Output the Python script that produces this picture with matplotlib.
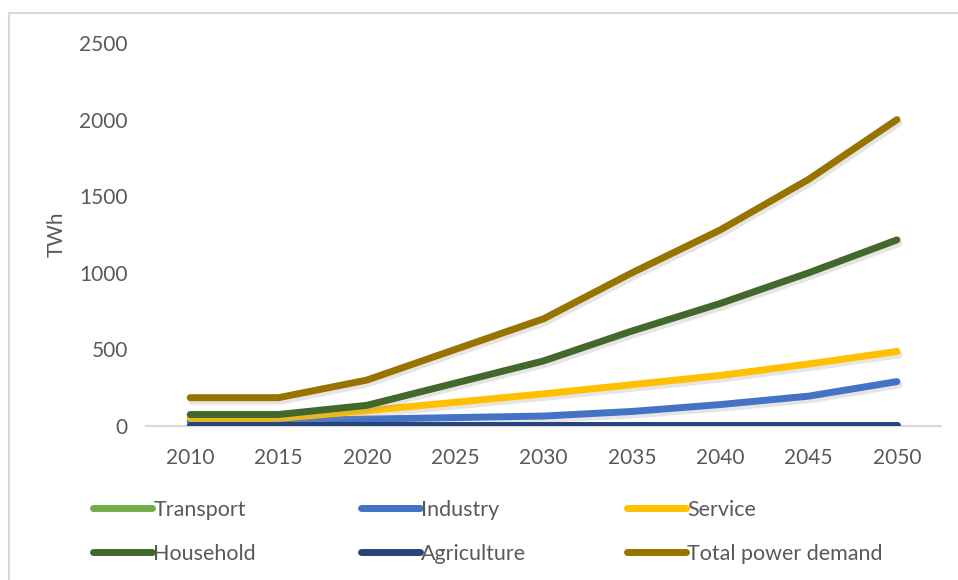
import matplotlib.pyplot as plt
import matplotlib.patheffects as pe
from matplotlib.patches import Rectangle

plt.rcParams['font.family'] = ['Lato', 'DejaVu Sans']

# data (TWh)
years = [2010, 2015, 2020, 2025, 2030, 2035, 2040, 2045, 2050]
transport = [1, 1, 1, 1, 2, 2, 2, 3, 3]
industry = [30, 35, 45, 55, 65, 95, 140, 195, 290]
service = [50, 50, 100, 155, 210, 270, 330, 405, 487]
household = [75, 75, 135, 280, 425, 620, 800, 1000, 1215]
agriculture = [4, 4, 4, 4, 4, 4, 4, 4, 4]
total = [185, 185, 300, 500, 700, 1000, 1280, 1610, 2000]

series = [
    ('Transport', transport, '#70AD47'),
    ('Industry', industry, '#4472C4'),
    ('Service', service, '#FFC000'),
    ('Household', household, '#43682B'),
    ('Agriculture', agriculture, '#264478'),
    ('Total power demand', total, '#997300'),
]

txt = '#595959'

fig = plt.figure(figsize=(9.58, 5.8), dpi=100)
fig.patches.append(Rectangle((9 / 958, -0.1), 1.1, 1.1 - 13 / 580,
                             transform=fig.transFigure, fill=False,
                             edgecolor='#D9D9D9', linewidth=1.5))
ax = fig.add_axes([0.1524, 0.2655, 0.830, 0.6603])

shadow = [pe.SimpleLineShadow(offset=(1.5, -2.5), shadow_color='#999999', alpha=0.25),
          pe.Normal()]

lines = {}
for name, vals, col in series:
    ln, = ax.plot(years, vals, color=col, lw=5, solid_capstyle='round',
                  solid_joinstyle='round', label=name, path_effects=shadow)
    lines[name] = ln

ax.set_xlim(2007.5, 2052.5)
ax.set_ylim(0, 2500)
ax.set_xticks(years)
ax.set_yticks(range(0, 2501, 500))
ax.tick_params(length=0, labelsize=15, colors=txt)
ax.tick_params(axis='y', pad=13)
ax.tick_params(axis='x', pad=16)
for s in ['top', 'right', 'left']:
    ax.spines[s].set_visible(False)
ax.spines['bottom'].set_color('#D9D9D9')
ax.spines['bottom'].set_linewidth(1.5)
ax.spines['bottom'].set_zorder(0)
ax.set_ylabel('TWh', fontsize=15, color=txt, labelpad=9)

# legend entries placed like the reference (two rows of three)
pos = {
    'Transport': (93, 510), 'Industry': (361, 510), 'Service': (627, 510),
    'Household': (93, 554), 'Agriculture': (361, 554), 'Total power demand': (627, 554),
}
for name, (px, py) in pos.items():
    src = lines[name]
    h = plt.Line2D([], [], color=src.get_color(), lw=5, solid_capstyle='round')
    fig.legend([h], [name], loc='center left',
               bbox_to_anchor=(px / 958, 1 - py / 580),
               frameon=False, borderpad=0, borderaxespad=0,
               handlelength=2.75, handletextpad=0.05, fontsize=15.5,
               labelcolor=txt)

fig.savefig('out.png', dpi=100)
